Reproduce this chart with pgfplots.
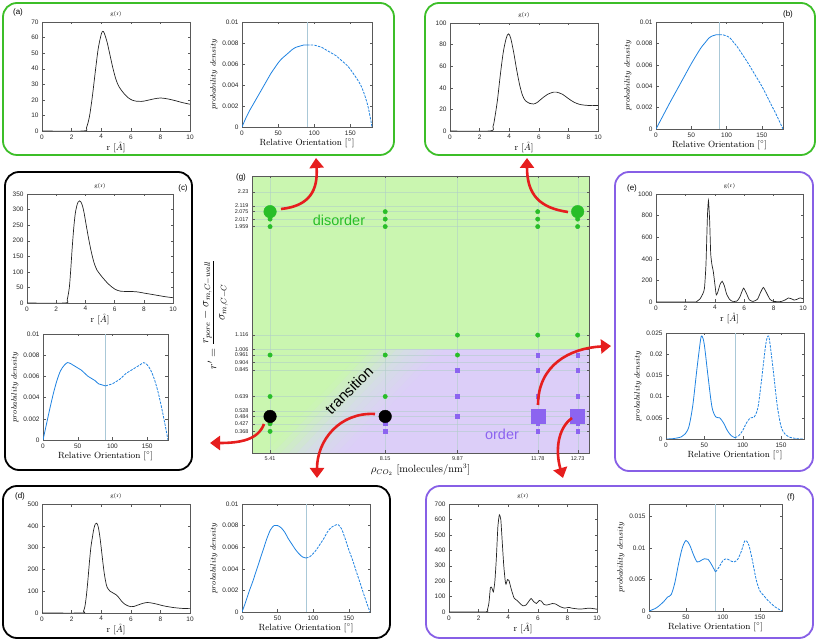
\documentclass[border=0pt]{standalone}
\usepackage{pgfplots}
\pgfplotsset{compat=1.18}
\usepackage{fontspec}
\newfontfamily\sff{Liberation Sans}
\usetikzlibrary{arrows.meta}

\definecolor{gline}{RGB}{35,35,35}
\definecolor{bline}{RGB}{30,130,225}
\definecolor{vline}{RGB}{170,200,215}
\definecolor{boxg}{RGB}{60,190,40}
\definecolor{boxp}{RGB}{135,95,230}
\definecolor{gfill}{RGB}{202,246,176}
\definecolor{pfill}{RGB}{220,206,248}
\definecolor{midc}{RGB}{212,222,228}
\definecolor{gdot}{RGB}{40,190,40}
\definecolor{pdot}{RGB}{140,100,240}
\definecolor{arrowred}{RGB}{230,30,30}
\definecolor{gridc}{RGB}{175,205,200}

\pgfplotsset{
  /pgf/number format/1000 sep={},
  panel/.style={scale only axis, anchor=south west,
    axis line style={draw=black!65, line width=0.4bp},
    every tick/.style={black!65, line width=0.3bp}, major tick length=2.5bp,
    tick align=inside,
    tick label style={font=\sff\fontsize{6.5}{7}\selectfont, text=black!85},
    /pgf/number format/assume math mode=true,
    label style={font=\fontsize{9}{10}\selectfont},
    title style={font=\fontsize{5.5}{6}\selectfont, yshift=-4bp},
    xmin=0, ymin=0},
  gr/.style={panel, xmax=10, xtick={0,2,...,10}, title={g(r)},
    xlabel={r [$\mathring{A}$]}, xlabel style={yshift=4bp}},
  ori/.style={panel, xmax=180, xtick={0,50,100,150},
    scaled y ticks=false,
    yticklabel style={/pgf/number format/fixed, /pgf/number format/precision=3},
    xlabel={Relative Orientation [$^\circ$]}, xlabel style={yshift=3.5bp},
    ylabel={$probability\ density$}, ylabel style={font=\fontsize{8}{9}\selectfont, yshift=-2bp}},
  grl/.style={gline, line width=0.7bp, no marks, smooth, tension=0.5},
  bsol/.style={bline, line width=0.8bp, no marks, smooth, tension=0.5},
  bdash/.style={bline, line width=0.8bp, no marks, smooth, tension=0.5, dash pattern=on 2.5bp off 1.2bp},
  vl/.style={vline, line width=0.9bp, no marks},
  bg/.style={on layer=axis background, draw=none, fill=#1},
}

\begin{document}
\begin{tikzpicture}

% ---------- panel boxes ----------
\draw[boxg, line width=1.8bp, rounded corners=14bp] (3bp,489bp) rectangle (394bp,641bp);
\draw[boxg, line width=1.8bp, rounded corners=14bp] (425bp,489bp) rectangle (815bp,641bp);
\draw[black, line width=1.8bp, rounded corners=14bp] (5bp,174bp) rectangle (192bp,472bp);
\draw[boxp, line width=1.8bp, rounded corners=14bp] (615bp,173bp) rectangle (813bp,472bp);
\draw[black, line width=1.8bp, rounded corners=14bp] (3bp,6bp) rectangle (390bp,158bp);
\draw[boxp, line width=1.8bp, rounded corners=14bp] (426bp,6bp) rectangle (813bp,158bp);

\node[font=\sff\fontsize{8}{9}\selectfont] at (18bp,632bp) {(a)};
\node[font=\sff\fontsize{8}{9}\selectfont] at (788bp,630bp) {(b)};
\node[font=\sff\fontsize{8}{9}\selectfont] at (183bp,456bp) {(c)};
\node[font=\sff\fontsize{8}{9}\selectfont] at (20bp,148bp) {(d)};
\node[font=\sff\fontsize{8}{9}\selectfont] at (632bp,456bp) {(e)};
\node[font=\sff\fontsize{8}{9}\selectfont] at (791bp,147bp) {(f)};
\node[font=\sff\fontsize{8}{9}\selectfont] at (241bp,467bp) {(g)};

% ---------- (a) ----------
\begin{axis}[gr, at={(42bp,513bp)}, width=148bp, height=109bp, ymax=70, ytick={0,10,...,70}]
\addplot[grl] coordinates {(0,0)(2.8,0)(3.0,2)(3.2,9)(3.4,22)(3.6,38)(3.8,53)(4.0,62)(4.1,64)(4.2,63)(4.4,57)(4.6,48.5)(4.8,40)(5.0,33)(5.2,28.5)(5.5,24.5)(5.8,21.5)(6.1,19.8)(6.4,19.1)(6.7,19)(7.0,19.4)(7.5,20.5)(8.0,21.2)(8.5,20.6)(9.0,19.5)(9.5,18.2)(10,17.2)};
\end{axis}
\begin{axis}[ori, at={(242bp,517bp)}, width=130bp, height=105bp, ymax=0.01, ytick={0,0.002,...,0.01}]
\addplot[vl] coordinates {(90,0)(90,0.01)};
\addplot[bsol] coordinates {(0,0)(5,0.0008)(10,0.0015)(15,0.0021)(20,0.0027)(25,0.0033)(30,0.0039)(35,0.0045)(40,0.0051)(45,0.0056)(50,0.0061)(55,0.0065)(60,0.0068)(65,0.0071)(70,0.0074)(75,0.0076)(80,0.0077)(85,0.0078)(90,0.0078)};
\addplot[bdash] coordinates {(90,0.0078)(95,0.0078)(100,0.0078)(105,0.0077)(110,0.0076)(115,0.0074)(120,0.0072)(125,0.0070)(130,0.0068)(135,0.0065)(140,0.0062)(145,0.0059)(150,0.0055)(155,0.0050)(160,0.0045)(165,0.0039)(170,0.0030)(175,0.0018)(180,0)};
\end{axis}

% ---------- (b) ----------
\begin{axis}[gr, at={(450bp,513bp)}, width=148bp, height=108bp, ymax=100, ytick={0,20,...,100}]
\addplot[grl] coordinates {(0,0)(2.7,0)(2.9,4)(3.0,10)(3.2,28)(3.4,52)(3.6,73)(3.8,86)(3.95,90)(4.1,86)(4.3,73)(4.5,57)(4.7,43)(4.9,33)(5.1,28)(5.4,25.5)(5.65,25)(5.9,26.5)(6.2,30)(6.6,34)(7.0,36)(7.2,36)(7.6,34)(8.0,30)(8.4,26.5)(8.8,24.5)(9.2,23.8)(9.6,23.5)(10,23.6)};
\end{axis}
\begin{axis}[ori, at={(656bp,515bp)}, width=127bp, height=107bp, ymax=0.01, ytick={0,0.002,...,0.01}]
\addplot[vl] coordinates {(90,0)(90,0.01)};
\addplot[bsol] coordinates {(0,0)(10,0.00125)(20,0.0025)(30,0.0037)(40,0.0049)(50,0.0061)(60,0.0072)(65,0.0077)(70,0.0081)(75,0.0085)(80,0.0087)(85,0.0088)(90,0.0088)};
\addplot[bdash] coordinates {(90,0.0088)(95,0.0088)(100,0.0087)(105,0.0085)(110,0.0081)(115,0.0077)(120,0.0072)(130,0.0062)(140,0.0051)(150,0.0040)(160,0.0027)(170,0.0014)(180,0)};
\end{axis}

% ---------- (c) ----------
\begin{axis}[gr, at={(27bp,341bp)}, width=146bp, height=109bp, ymax=350, ytick={0,50,...,350}]
\addplot[grl] coordinates {(0,0)(2.6,0)(2.75,10)(2.9,50)(3.0,110)(3.1,180)(3.2,240)(3.3,285)(3.4,310)(3.5,324)(3.6,328)(3.7,324)(3.8,312)(3.9,292)(4.0,265)(4.2,212)(4.4,165)(4.6,128)(4.8,105)(5.0,92)(5.3,75)(5.6,60)(6.0,45)(6.4,38)(7.0,37)(7.5,36)(8.0,32)(8.5,28)(9.0,24)(9.5,20)(10,17)};
\end{axis}
\begin{axis}[ori, at={(43bp,204bp)}, width=125bp, height=106bp, ymax=0.01, ytick={0,0.002,...,0.01}]
\addplot[vl] coordinates {(90,0)(90,0.01)};
\addplot[bsol] coordinates {(0,0)(5,0.0015)(10,0.003)(15,0.0044)(20,0.0056)(25,0.0065)(30,0.0070)(35,0.0073)(40,0.0072)(45,0.0070)(50,0.0068)(55,0.0066)(60,0.0063)(65,0.0060)(70,0.0058)(75,0.0056)(80,0.0053)(85,0.0052)(90,0.0051)};
\addplot[bdash] coordinates {(90,0.0051)(95,0.0052)(100,0.0053)(105,0.0055)(110,0.0057)(115,0.0060)(120,0.0063)(125,0.0065)(130,0.0067)(135,0.0069)(140,0.0071)(145,0.0073)(150,0.0071)(155,0.0066)(160,0.0058)(165,0.0047)(170,0.0033)(175,0.0017)(180,0)};
\end{axis}

% ---------- (e) ----------
\begin{axis}[gr, at={(656bp,342bp)}, width=147bp, height=108bp, ymax=1000, ytick={0,200,...,1000}]
\addplot[grl, tension=0.3] coordinates {(0,0)(2.6,0)(2.8,8)(3.0,30)(3.2,80)(3.3,130)(3.4,350)(3.5,800)(3.57,940)(3.65,750)(3.72,450)(3.8,350)(3.9,280)(4.0,170)(4.1,65)(4.2,90)(4.35,160)(4.5,192)(4.65,150)(4.8,75)(5.0,25)(5.2,6)(5.5,8)(5.7,45)(5.95,128)(6.15,80)(6.35,20)(6.6,5)(6.9,25)(7.1,85)(7.3,135)(7.5,90)(7.75,25)(8.0,5)(8.5,4)(8.8,20)(9.0,37)(9.2,30)(9.4,18)(9.6,25)(9.8,38)(10,30)};
\end{axis}
\begin{axis}[ori, at={(666bp,205bp)}, width=138bp, height=106bp, ymax=0.025, ytick={0,0.005,...,0.025}]
\addplot[vl] coordinates {(90,0)(90,0.025)};
\addplot[bsol] coordinates {(0,0)(10,0.0001)(20,0.0005)(25,0.0012)(30,0.003)(35,0.008)(40,0.016)(45,0.0233)(47,0.0243)(50,0.0222)(55,0.0145)(60,0.0075)(65,0.0052)(70,0.005)(75,0.0038)(80,0.002)(85,0.0008)(90,0.0003)};
\addplot[bdash] coordinates {(90,0.0003)(95,0.0008)(100,0.002)(105,0.0038)(110,0.005)(115,0.0052)(120,0.0075)(125,0.0145)(130,0.0222)(133,0.0243)(135,0.0233)(140,0.016)(145,0.008)(150,0.003)(155,0.0012)(160,0.0005)(170,0.0001)(180,0)};
\end{axis}

% ---------- (d) ----------
\begin{axis}[gr, at={(42bp,31bp)}, width=148bp, height=109bp, ymax=500, ytick={0,100,...,500}]
\addplot[grl] coordinates {(0,0)(2.7,0)(2.8,8)(2.9,30)(3.0,80)(3.1,150)(3.2,230)(3.3,300)(3.4,345)(3.5,385)(3.6,408)(3.7,412)(3.8,395)(3.9,355)(4.0,300)(4.1,240)(4.2,185)(4.3,145)(4.4,118)(4.6,100)(4.8,92)(5.0,84)(5.2,70)(5.4,52)(5.6,40)(5.8,33)(6.0,29)(6.2,30)(6.5,37)(6.8,44)(7.1,48)(7.4,46)(7.8,40)(8.2,33)(8.6,28)(9.0,24)(9.5,21)(10,20)};
\end{axis}
\begin{axis}[ori, at={(242bp,32bp)}, width=128bp, height=108bp, ymax=0.01, ytick={0,0.002,...,0.01}]
\addplot[vl] coordinates {(90,0)(90,0.01)};
\addplot[bsol] coordinates {(0,0)(5,0.0009)(10,0.0019)(15,0.0028)(20,0.0038)(25,0.0048)(30,0.0058)(35,0.0068)(40,0.0076)(45,0.0080)(50,0.0080)(55,0.0078)(60,0.0074)(65,0.0068)(70,0.0063)(75,0.0058)(80,0.0054)(85,0.0051)(90,0.0050)};
\addplot[bdash] coordinates {(90,0.005)(95,0.0051)(100,0.0054)(105,0.0058)(110,0.0063)(115,0.0068)(120,0.0074)(125,0.0078)(130,0.0080)(135,0.0081)(140,0.0077)(145,0.0068)(150,0.0058)(155,0.0049)(160,0.0039)(165,0.0029)(170,0.0019)(175,0.0009)(180,0)};
\end{axis}

% ---------- (f) ----------
\begin{axis}[gr, at={(449bp,32bp)}, width=148bp, height=108bp, ymax=700, ytick={0,100,...,700}]
\addplot[grl, tension=0.3] coordinates {(0,0)(2.5,0)(2.6,15)(2.7,60)(2.8,160)(2.9,155)(3.0,130)(3.1,200)(3.2,350)(3.3,550)(3.4,630)(3.5,600)(3.6,450)(3.7,300)(3.8,200)(3.85,180)(3.95,210)(4.05,205)(4.2,150)(4.4,90)(4.6,75)(4.8,55)(5.0,40)(5.2,45)(5.4,70)(5.55,88)(5.7,70)(5.9,55)(6.1,75)(6.25,70)(6.4,50)(6.6,45)(7.0,55)(7.2,52)(7.5,35)(7.8,25)(8.1,30)(8.3,25)(8.7,20)(9.0,20)(9.5,25)(10,18)};
\end{axis}
\begin{axis}[ori, at={(649bp,33bp)}, width=133bp, height=107bp, ymax=0.017, ytick={0,0.005,0.01,0.015}]
\addplot[vl] coordinates {(90,0)(90,0.017)};
\addplot[bsol] coordinates {(0,0)(10,0.0005)(20,0.0015)(25,0.0022)(30,0.0026)(35,0.0045)(40,0.0075)(45,0.0100)(50,0.0112)(55,0.0105)(60,0.0090)(65,0.0078)(70,0.0080)(75,0.0083)(80,0.0082)(85,0.0073)(90,0.0062)};
\addplot[bdash] coordinates {(90,0.0062)(95,0.0070)(100,0.0080)(105,0.0083)(110,0.0080)(115,0.0078)(120,0.0082)(125,0.0095)(130,0.0112)(135,0.0105)(140,0.0080)(145,0.0050)(150,0.0032)(155,0.0025)(160,0.0018)(170,0.0007)(180,0)};
\end{axis}

% ---------- (g) central ----------
\begin{axis}[scale only axis, anchor=south west, at={(252bp,191bp)}, width=337bp, height=277bp,
  set layers,
  xmin=4.98, xmax=13.0, ymin=0.2, ymax=2.352,
  axis line style={draw=black!65, line width=0.4bp},
  every tick/.style={black!65, line width=0.3bp}, major tick length=2.5bp, tick align=inside,
  xtick={5.41,8.15,9.87,11.78,12.73}, xticklabels={5.41,8.15,9.87,11.78,12.73},
  ytick={0.368,0.427,0.484,0.528,0.639,0.845,0.904,0.961,1.006,1.116,1.959,2.017,2.075,2.119,2.23},
  yticklabels={0.368,0.427,0.484,0.528,0.639,0.845,0.904,0.961,1.006,1.116,1.959,2.017,2.075,2.119,2.23},
  tick label style={font=\sff\fontsize{5.5}{5.5}\selectfont, text=black!85},
  grid=major, grid style={gridc, line width=0.3bp, opacity=0.55},
  xlabel={$\rho_{CO_2}$ [molecules/nm$^3$]}, xlabel style={font=\fontsize{10.5}{12}\selectfont, yshift=3bp},
  ylabel={$r' = \displaystyle\frac{r_{pore}-\sigma_{m,C-wall}}{\sigma_{m,C-C}}$}, ylabel style={font=\fontsize{11.5}{13}\selectfont},
]
% background: disorder (green) region, diagonal transition band, order (purple) region
\addplot[bg=gfill] coordinates {(4.98,0.2)(13.0,0.2)(13.0,2.352)(4.98,2.352)} -- cycle;
\addplot[bg=midc!10!gfill] coordinates {(5.29,0.2)(13.0,0.2)(13.0,1.006)(7.666,1.006)} -- cycle;
\addplot[bg=midc!30!gfill] coordinates {(5.48,0.2)(13.0,0.2)(13.0,1.006)(7.856,1.006)} -- cycle;
\addplot[bg=midc!50!gfill] coordinates {(5.67,0.2)(13.0,0.2)(13.0,1.006)(8.046,1.006)} -- cycle;
\addplot[bg=midc!70!gfill] coordinates {(5.86,0.2)(13.0,0.2)(13.0,1.006)(8.236,1.006)} -- cycle;
\addplot[bg=midc!90!gfill] coordinates {(6.05,0.2)(13.0,0.2)(13.0,1.006)(8.426,1.006)} -- cycle;
\addplot[bg=pfill!10!midc] coordinates {(6.24,0.2)(13.0,0.2)(13.0,1.006)(8.616,1.006)} -- cycle;
\addplot[bg=pfill!30!midc] coordinates {(6.43,0.2)(13.0,0.2)(13.0,1.006)(8.806,1.006)} -- cycle;
\addplot[bg=pfill!50!midc] coordinates {(6.62,0.2)(13.0,0.2)(13.0,1.006)(8.996,1.006)} -- cycle;
\addplot[bg=pfill!70!midc] coordinates {(6.81,0.2)(13.0,0.2)(13.0,1.006)(9.186,1.006)} -- cycle;
\addplot[bg=pfill!90!midc] coordinates {(7.00,0.2)(13.0,0.2)(13.0,1.006)(9.376,1.006)} -- cycle;
\addplot[bg=pfill] coordinates {(7.19,0.2)(13.0,0.2)(13.0,1.006)(9.566,1.006)} -- cycle;
% state points
\addplot[only marks, mark=*, mark size=2.2bp, gdot] coordinates {
 (5.41,2.017)(5.41,1.959)(5.41,0.961)(5.41,0.639)(5.41,0.427)(5.41,0.368)
 (8.15,2.075)(8.15,2.017)(8.15,1.959)(8.15,0.961)(8.15,0.639)
 (9.87,1.116)(9.87,0.961)
 (11.78,2.075)(11.78,2.017)(11.78,1.959)(11.78,1.116)
 (12.73,2.017)(12.73,1.959)(12.73,1.116)};
\addplot[only marks, mark=square*, mark size=1.8bp, pdot] coordinates {
 (8.15,0.427)(8.15,0.368)
 (9.87,0.845)(9.87,0.639)(9.87,0.484)
 (11.78,0.961)(11.78,0.845)(11.78,0.639)(11.78,0.427)(11.78,0.368)
 (12.73,0.961)(12.73,0.845)(12.73,0.639)(12.73,0.427)(12.73,0.368)};
\addplot[only marks, mark=*, mark size=6.3bp, gdot] coordinates {(5.41,2.075)(12.73,2.075)};
\addplot[only marks, mark=*, mark size=6.3bp, black] coordinates {(5.41,0.484)(8.15,0.484)};
\addplot[only marks, mark=square*, mark size=7bp, pdot] coordinates {(11.78,0.484)(12.73,0.484)};
\end{axis}

\node[font=\sff\fontsize{14.5}{16}\selectfont, text=gdot] at (339bp,424bp) {disorder};
\node[font=\sff\fontsize{14.5}{16}\selectfont, text=pdot] at (502bp,210bp) {order};
\node[font=\sff\fontsize{15}{16}\selectfont, rotate=45] at (349bp,254bp) {transition};

% ---------- arrows ----------
\begin{scope}[arrowred, line width=2.6bp, -{Triangle[length=10bp,width=14bp]}]
\draw (281bp,435bp) .. controls (310bp,438bp) and (318bp,454bp) .. (316bp,486bp);
\draw (568bp,432bp) .. controls (540bp,436bp) and (527bp,449bp) .. (527bp,486bp);
\draw (538bp,239bp) .. controls (538bp,279bp) and (570bp,296bp) .. (611bp,298bp);
\draw (572bp,226bp) .. controls (558bp,216bp) and (555bp,194bp) .. (563bp,166bp);
\draw (375bp,230bp) .. controls (340bp,232bp) and (317bp,204bp) .. (317bp,166bp);
\draw (264bp,220bp) .. controls (258bp,204bp) and (240bp,201bp) .. (210bp,201bp);
\end{scope}
\pgfresetboundingbox
\useasboundingbox (0,0) rectangle (817bp,644bp);
\end{tikzpicture}
\end{document}
